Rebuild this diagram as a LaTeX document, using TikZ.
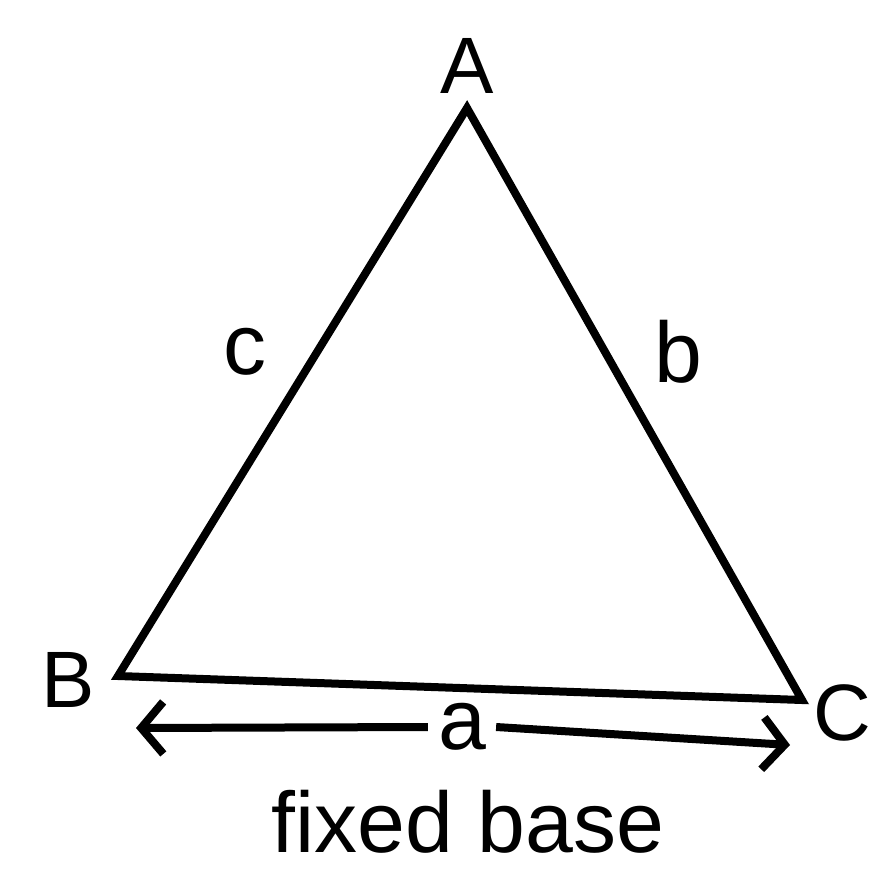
\documentclass[tikz,border=0pt]{standalone}
\usepackage{fontspec}
\setsansfont{Liberation Sans}
\usetikzlibrary{arrows.meta,positioning}

\begin{document}
\begin{tikzpicture}[
  x=1pt, y=-1pt,
  vertex/.style={font=\sffamily\fontsize{80}{84}\selectfont, inner sep=0pt},
  side/.style={font=\sffamily\fontsize{86}{90}\selectfont, inner sep=0pt},
  edge/.style={line width=8pt, line join=miter},
  arrow/.style={-{Straight Barb[length=22pt, width=52pt, line width=8pt]}, line width=8pt}
]

  \useasboundingbox (0,0) rectangle (872,880);

  \coordinate (A) at (467,108);
  \coordinate (B) at (118,676);
  \coordinate (C) at (802,700);

  \draw[edge] (A) -- (B) -- (C) -- cycle;

  \node[vertex] (labelA) at (467,66) {A};
  \node[vertex] (labelB) at (68,680) {B};
  \node[vertex] (labelC) at (842,713) {C};

  \node[side] (c) at (245,352) {c};
  \node[side] (b) at (678,352) {b};

  \node[side, inner sep=10pt] (a) at (462,727) {a};
  \coordinate (LeftTip)  at (136,728);
  \coordinate (RightTip) at (790,745);

  \draw[arrow] (a.west) -- (LeftTip);
  \draw[arrow] (a.east) -- (RightTip);

  \node[side] (base) at (468,822) {fixed base};

\end{tikzpicture}
\end{document}
